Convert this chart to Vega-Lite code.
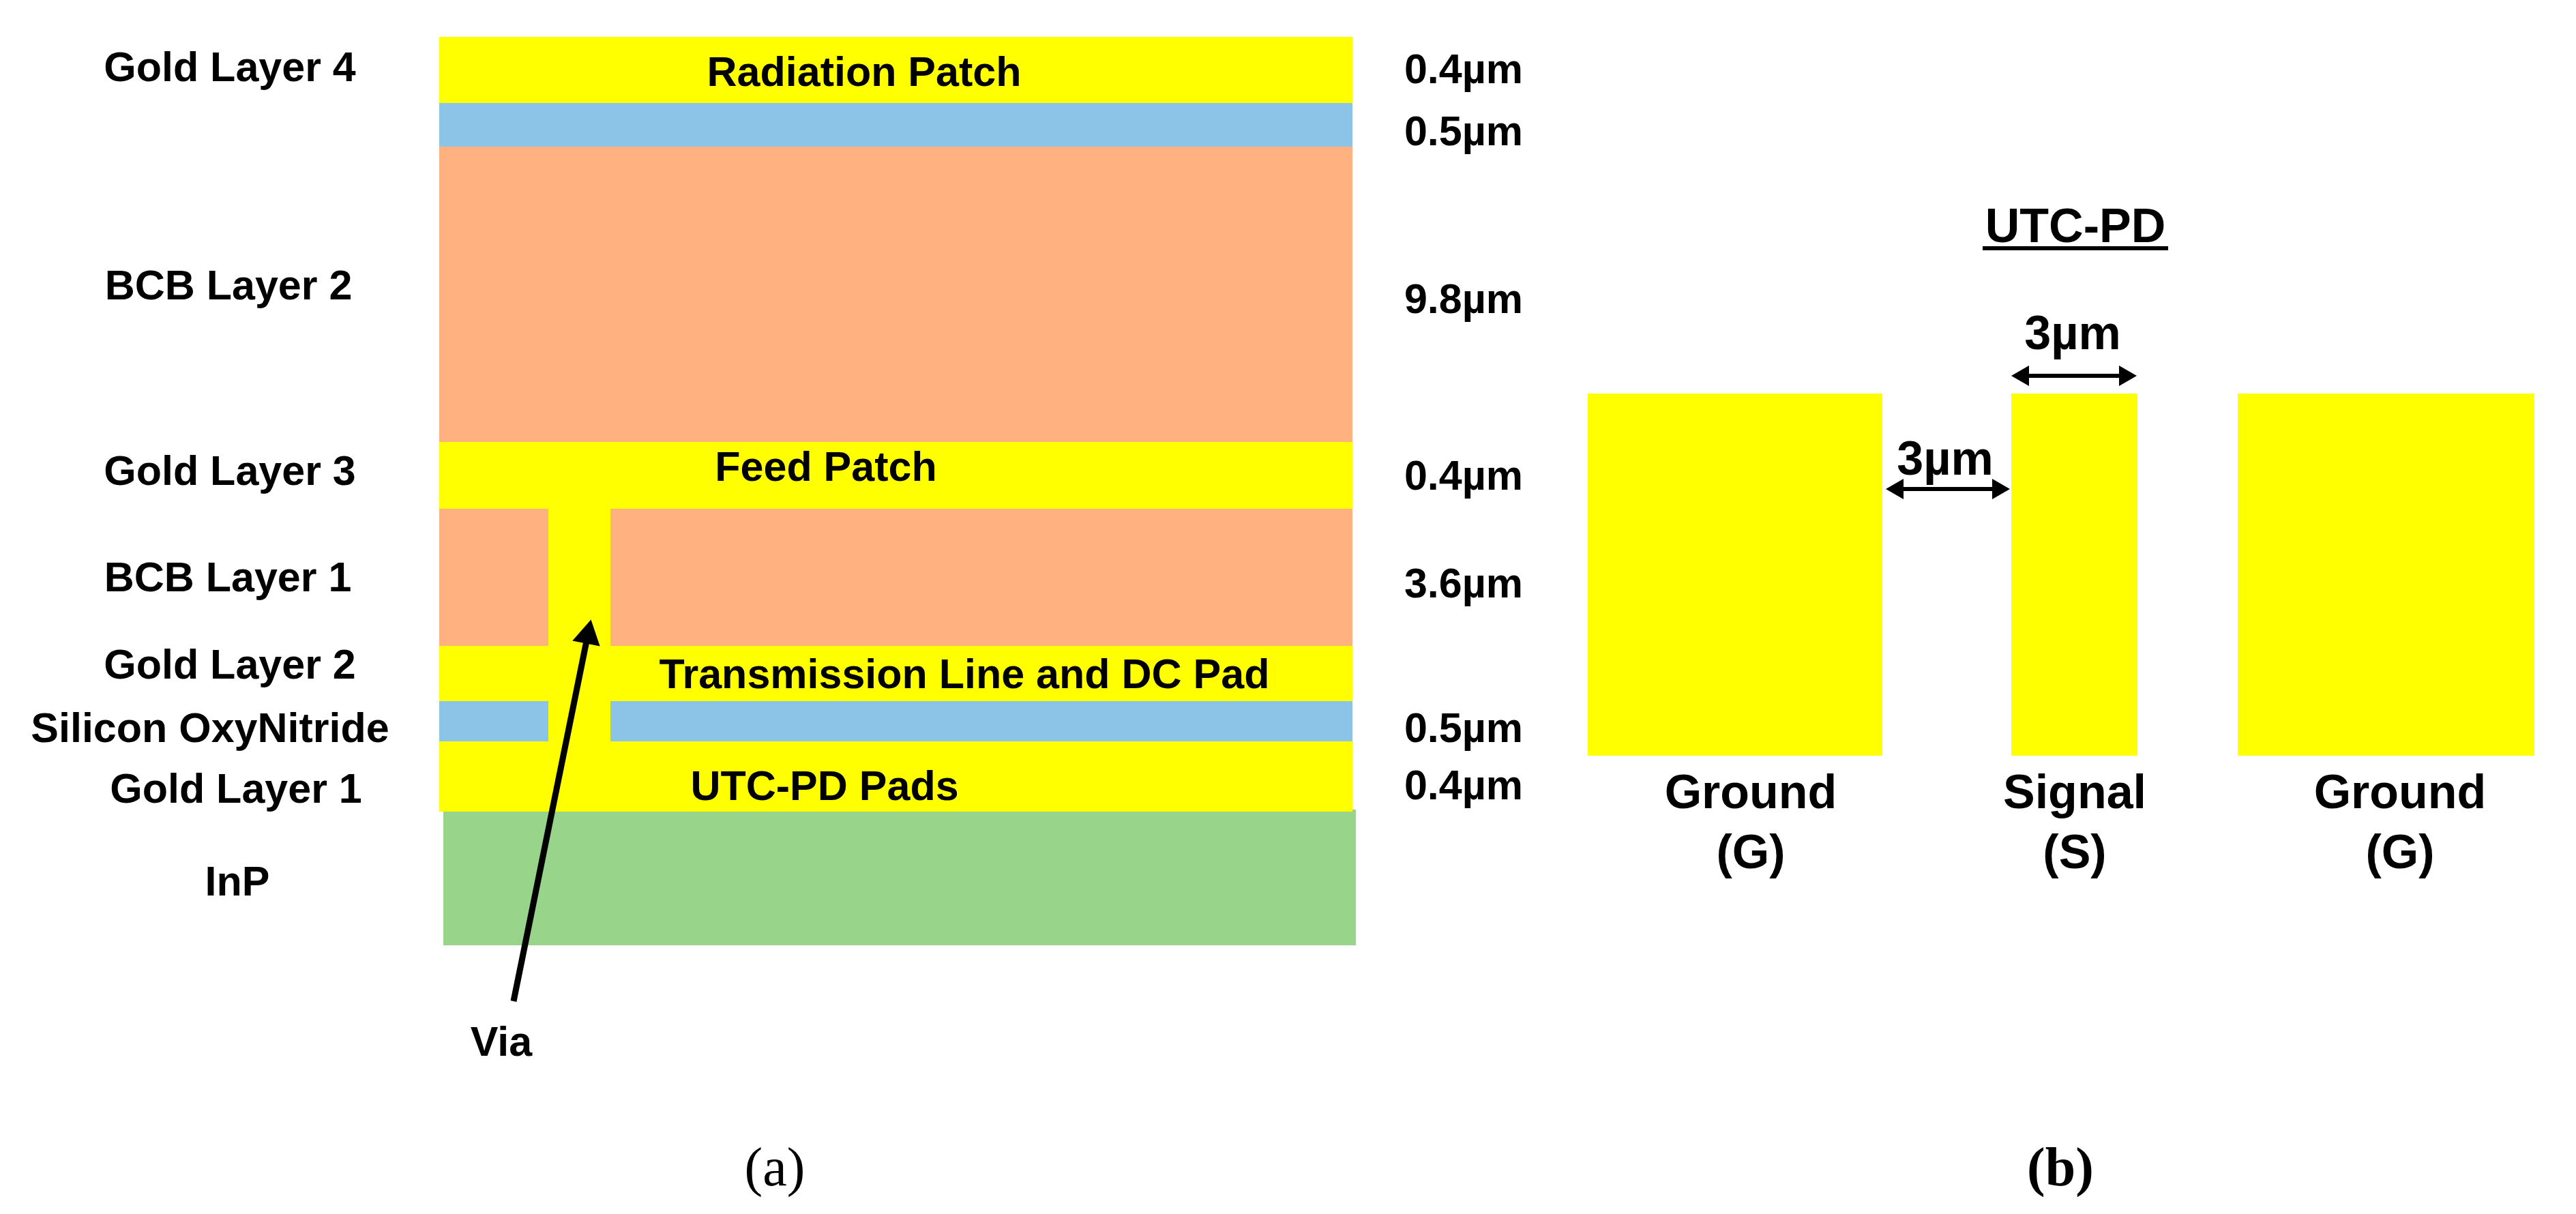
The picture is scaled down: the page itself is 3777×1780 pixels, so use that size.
{
  "$schema": "https://vega.github.io/schema/vega-lite/v6.json",
  "width": 3777,
  "height": 1780,
  "autosize": {"type": "fit", "contains": "padding"},
  "padding": 0,
  "background": "white",
  "view": {"stroke": null},
  "datasets": {
    "blocks": [
      {"part": "Gold Layer 4", "material": "gold", "x": 644, "x2": 1983, "y": 54, "y2": 151},
      {"part": "Silicon OxyNitride top", "material": "oxide", "x": 644, "x2": 1983, "y": 151, "y2": 215},
      {"part": "BCB Layer 2", "material": "bcb", "x": 644, "x2": 1983, "y": 215, "y2": 648},
      {"part": "InP", "material": "inp", "x": 650, "x2": 1988, "y": 1187, "y2": 1386},
      {"part": "Gold stack", "material": "gold", "x": 644, "x2": 1983, "y": 648, "y2": 1190},
      {"part": "BCB Layer 1 left", "material": "bcb", "x": 644, "x2": 804, "y": 746, "y2": 947},
      {"part": "BCB Layer 1 right", "material": "bcb", "x": 895, "x2": 1983, "y": 746, "y2": 947},
      {"part": "Silicon OxyNitride left", "material": "oxide", "x": 644, "x2": 804, "y": 1028, "y2": 1087},
      {"part": "Silicon OxyNitride right", "material": "oxide", "x": 895, "x2": 1983, "y": 1028, "y2": 1087},
      {"part": "Ground left", "material": "gold", "x": 2328, "x2": 2760, "y": 577, "y2": 1108},
      {"part": "Signal", "material": "gold", "x": 2949, "x2": 3134, "y": 577, "y2": 1108},
      {"part": "Ground right", "material": "gold", "x": 3281, "x2": 3716, "y": 577, "y2": 1108}
    ],
    "stackLabels": [
      {"label": "Gold Layer 4", "x": 337, "y": 101},
      {"label": "BCB Layer 2", "x": 335, "y": 421},
      {"label": "Gold Layer 3", "x": 337, "y": 693},
      {"label": "BCB Layer 1", "x": 334, "y": 849},
      {"label": "Gold Layer 2", "x": 337, "y": 977},
      {"label": "Silicon OxyNitride", "x": 308, "y": 1070},
      {"label": "Gold Layer 1", "x": 346, "y": 1159},
      {"label": "InP", "x": 348, "y": 1295},
      {"label": "Via", "x": 735, "y": 1530},
      {"label": "Radiation Patch", "x": 1267, "y": 108},
      {"label": "Feed Patch", "x": 1211, "y": 687},
      {"label": "Transmission Line and DC Pad", "x": 1414, "y": 991},
      {"label": "UTC-PD Pads", "x": 1209, "y": 1155},
      {"label": "0.4µm", "x": 2146, "y": 104},
      {"label": "0.5µm", "x": 2146, "y": 195},
      {"label": "9.8µm", "x": 2146, "y": 441},
      {"label": "0.4µm", "x": 2146, "y": 700},
      {"label": "3.6µm", "x": 2146, "y": 858},
      {"label": "0.5µm", "x": 2146, "y": 1070},
      {"label": "0.4µm", "x": 2146, "y": 1154}
    ],
    "padLabels": [
      {"label": "UTC-PD", "x": 3043, "y": 334},
      {"label": "3µm", "x": 3039, "y": 491},
      {"label": "3µm", "x": 2852, "y": 675},
      {"label": "Ground", "x": 2567, "y": 1164},
      {"label": "(G)", "x": 2567, "y": 1252},
      {"label": "Signal", "x": 3042, "y": 1164},
      {"label": "(S)", "x": 3042, "y": 1252},
      {"label": "Ground", "x": 3519, "y": 1164},
      {"label": "(G)", "x": 3519, "y": 1252}
    ],
    "lines": [
      {"line": "underline", "x": 2907, "x2": 3179, "y": 364, "y2": 364},
      {"line": "signal width", "x": 2960, "x2": 3122, "y": 551, "y2": 551},
      {"line": "gap width", "x": 2776, "x2": 2936, "y": 717, "y2": 717}
    ],
    "viaShaft": [
      {"line": "via", "x": 753, "x2": 862, "y": 1468, "y2": 930}
    ],
    "heads": [
      {"x": 2962, "y": 551, "heading": 270, "arrow": "signal width"},
      {"x": 3120, "y": 551, "heading": 90, "arrow": "signal width"},
      {"x": 2778, "y": 717, "heading": 270, "arrow": "gap width"},
      {"x": 2934, "y": 717, "heading": 90, "arrow": "gap width"}
    ],
    "viaHead": [
      {"x": 863, "y": 926, "heading": 11.4, "arrow": "via"}
    ],
    "captionA": [
      {"label": "(a)", "x": 1136, "y": 1714}
    ],
    "captionB": [
      {"label": "(b)", "x": 3021, "y": 1714}
    ]
  },
  "encoding": {
    "x": {"field": "x", "type": "quantitative", "scale": {"domain": [0, 3777]}, "axis": null},
    "y": {"field": "y", "type": "quantitative", "scale": {"domain": [1780, 0]}, "axis": null}
  },
  "layer": [
    {
      "data": {"name": "blocks"},
      "mark": {"type": "rect"},
      "encoding": {
        "x2": {"field": "x2"},
        "y2": {"field": "y2"},
        "color": {
          "field": "material",
          "type": "nominal",
          "scale": {"domain": ["gold", "oxide", "bcb", "inp"], "range": ["#ffff00", "#8cc4e8", "#ffb280", "#98d48a"]},
          "legend": null
        }
      }
    },
    {
      "data": {"name": "lines"},
      "mark": {"type": "rule", "color": "black", "strokeWidth": 6},
      "encoding": {"x2": {"field": "x2"}, "y2": {"field": "y2"}}
    },
    {
      "data": {"name": "viaShaft"},
      "mark": {"type": "rule", "color": "black", "strokeWidth": 9},
      "encoding": {"x2": {"field": "x2"}, "y2": {"field": "y2"}}
    },
    {
      "data": {"name": "heads"},
      "mark": {"type": "point", "shape": "triangle-up", "filled": true, "color": "black", "opacity": 1, "size": 900},
      "encoding": {"angle": {"field": "heading", "type": "quantitative", "scale": null}}
    },
    {
      "data": {"name": "viaHead"},
      "mark": {"type": "point", "shape": "triangle-up", "filled": true, "color": "black", "opacity": 1, "size": 1700},
      "encoding": {"angle": {"field": "heading", "type": "quantitative", "scale": null}}
    },
    {
      "data": {"name": "stackLabels"},
      "mark": {"type": "text", "font": "Liberation Sans", "fontWeight": "bold", "fontSize": 61, "color": "black", "align": "center", "baseline": "middle"},
      "encoding": {"text": {"field": "label"}}
    },
    {
      "data": {"name": "padLabels"},
      "mark": {"type": "text", "font": "Liberation Sans", "fontWeight": "bold", "fontSize": 70, "color": "black", "align": "center", "baseline": "middle"},
      "encoding": {"text": {"field": "label"}}
    },
    {
      "data": {"name": "captionA"},
      "mark": {"type": "text", "font": "Liberation Serif", "fontSize": 80, "color": "black", "align": "center", "baseline": "middle"},
      "encoding": {"text": {"field": "label"}}
    },
    {
      "data": {"name": "captionB"},
      "mark": {"type": "text", "font": "Liberation Serif", "fontWeight": "bold", "fontSize": 80, "color": "black", "align": "center", "baseline": "middle"},
      "encoding": {"text": {"field": "label"}}
    }
  ]
}
